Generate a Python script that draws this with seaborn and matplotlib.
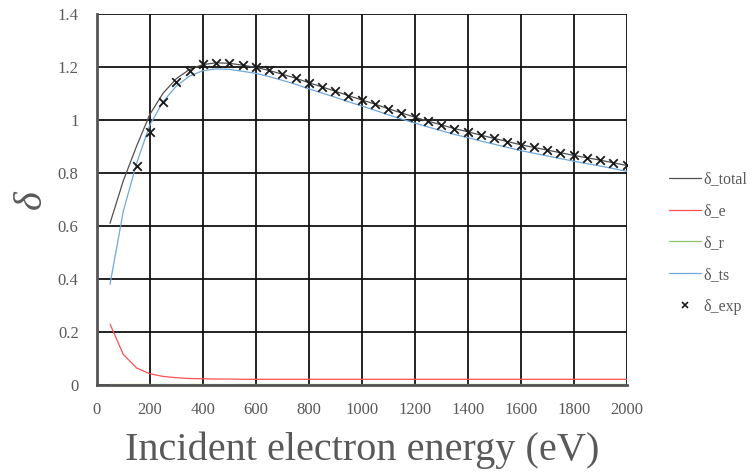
import numpy as np
import pandas as pd
import seaborn as sns
import matplotlib
matplotlib.use("Agg")
import matplotlib.pyplot as plt
from matplotlib.lines import Line2D

energy = [50, 100, 150, 200, 250, 300, 350, 400, 450, 500, 550, 600, 650, 700, 750,
          800, 850, 900, 950, 1000, 1050, 1100, 1150, 1200, 1250, 1300, 1350, 1400,
          1450, 1500, 1550, 1600, 1650, 1700, 1750, 1800, 1850, 1900, 1950, 2000]
delta_total = [0.61, 0.77, 0.90, 1.02, 1.10, 1.155, 1.19, 1.208, 1.215, 1.213, 1.206,
               1.198, 1.186, 1.172, 1.157, 1.140, 1.124, 1.108, 1.091, 1.075, 1.059,
               1.042, 1.026, 1.010, 0.995, 0.981, 0.967, 0.955, 0.942, 0.930, 0.918,
               0.906, 0.896, 0.886, 0.876, 0.866, 0.857, 0.848, 0.838, 0.828]
delta_e = [0.23, 0.116, 0.065, 0.043, 0.033, 0.028, 0.025, 0.024, 0.023, 0.023, 0.022,
           0.022, 0.022, 0.022, 0.022, 0.022, 0.022, 0.022, 0.022, 0.022, 0.022, 0.022,
           0.022, 0.022, 0.022, 0.022, 0.022, 0.022, 0.022, 0.022, 0.022, 0.022, 0.022,
           0.022, 0.022, 0.022, 0.022, 0.022, 0.022, 0.022]
delta_r = [0.003] * 40
delta_ts = [0.38, 0.655, 0.835, 0.98, 1.068, 1.127, 1.165, 1.185, 1.192, 1.190, 1.183,
            1.175, 1.163, 1.149, 1.134, 1.117, 1.101, 1.085, 1.068, 1.052, 1.036, 1.019,
            1.003, 0.988, 0.973, 0.959, 0.945, 0.933, 0.920, 0.908, 0.896, 0.884, 0.874,
            0.864, 0.854, 0.844, 0.835, 0.826, 0.816, 0.806]

exp_energy = [150, 200, 250, 300, 350, 400, 450, 500, 550, 600, 650, 700, 750, 800,
              850, 900, 950, 1000, 1050, 1100, 1150, 1200, 1250, 1300, 1350, 1400, 1450,
              1500, 1550, 1600, 1650, 1700, 1750, 1800, 1850, 1900, 1950, 2000]
delta_exp = [0.827, 0.954, 1.067, 1.143, 1.184, 1.209, 1.215, 1.215, 1.206, 1.200,
             1.186, 1.171, 1.156, 1.139, 1.123, 1.108, 1.090, 1.074, 1.059, 1.040,
             1.024, 1.009, 0.995, 0.980, 0.966, 0.955, 0.942, 0.930, 0.918, 0.906,
             0.896, 0.886, 0.876, 0.866, 0.857, 0.848, 0.838, 0.828]

series_names = ["δ_total", "δ_e", "δ_r", "δ_ts"]
series_colors = ["#505050", "#ff5050", "#8cc36c", "#6fa8dc"]

sns.set_theme(style="white")
plt.rcParams["font.family"] = ["Liberation Serif", "DejaVu Serif"]

long = pd.concat([
    pd.DataFrame({"energy": energy, "value": vals, "series": name})
    for name, vals in zip(series_names, [delta_total, delta_e, delta_r, delta_ts])
])
exp_df = pd.DataFrame({"energy": exp_energy, "value": delta_exp})

fig = plt.figure(figsize=(7.56, 4.72), dpi=100)
ax = fig.add_axes([0.128, 0.184, 0.701, 0.787])

ax.set_xlim(0, 2000)
ax.set_ylim(0, 1.4)
ax.set_xticks(np.arange(0, 2001, 200))
ax.set_yticks(np.arange(0, 1.41, 0.2))
ax.set_yticklabels(["0", "0.2", "0.4", "0.6", "0.8", "1", "1.2", "1.4"])
ax.grid(True, color="#111111", linewidth=1.3)
ax.set_axisbelow(True)

sns.lineplot(data=long, x="energy", y="value", hue="series",
             palette=dict(zip(series_names, series_colors)),
             hue_order=series_names, linewidth=0.9, ax=ax, legend=False)
sns.scatterplot(data=exp_df, x="energy", y="value", marker="x", color="#1a1a1a",
                s=38, linewidth=1.3, ax=ax, legend=False, zorder=5)

for side in ["top", "right"]:
    ax.spines[side].set_visible(False)
for side in ["left", "bottom"]:
    ax.spines[side].set_color("#555555")
    ax.spines[side].set_linewidth(2)

ax.tick_params(axis="both", length=0, labelsize=12, labelcolor="#595959")
ax.tick_params(axis="x", pad=12)
ax.tick_params(axis="y", pad=13)

ax.set_xlabel("Incident electron energy (eV)", fontsize=29, color="#595959", labelpad=10)
ax.set_ylabel("δ", fontsize=29, color="#595959", style="italic", labelpad=6)

handles = [Line2D([], [], color=c, linewidth=0.9) for c in series_colors]
handles.append(Line2D([], [], color="#1a1a1a", marker="x", linestyle="none",
                      markersize=5, markeredgewidth=1.2))
labels = series_names + ["δ_exp"]
leg = fig.legend(handles, labels, loc="center left", bbox_to_anchor=(0.876, 0.485),
                 frameon=False, fontsize=11.5, handlelength=2.0, handletextpad=0.2,
                 labelspacing=1.0, borderaxespad=0)
for t in leg.get_texts():
    t.set_color("#595959")

fig.savefig("out.png", dpi=100)
